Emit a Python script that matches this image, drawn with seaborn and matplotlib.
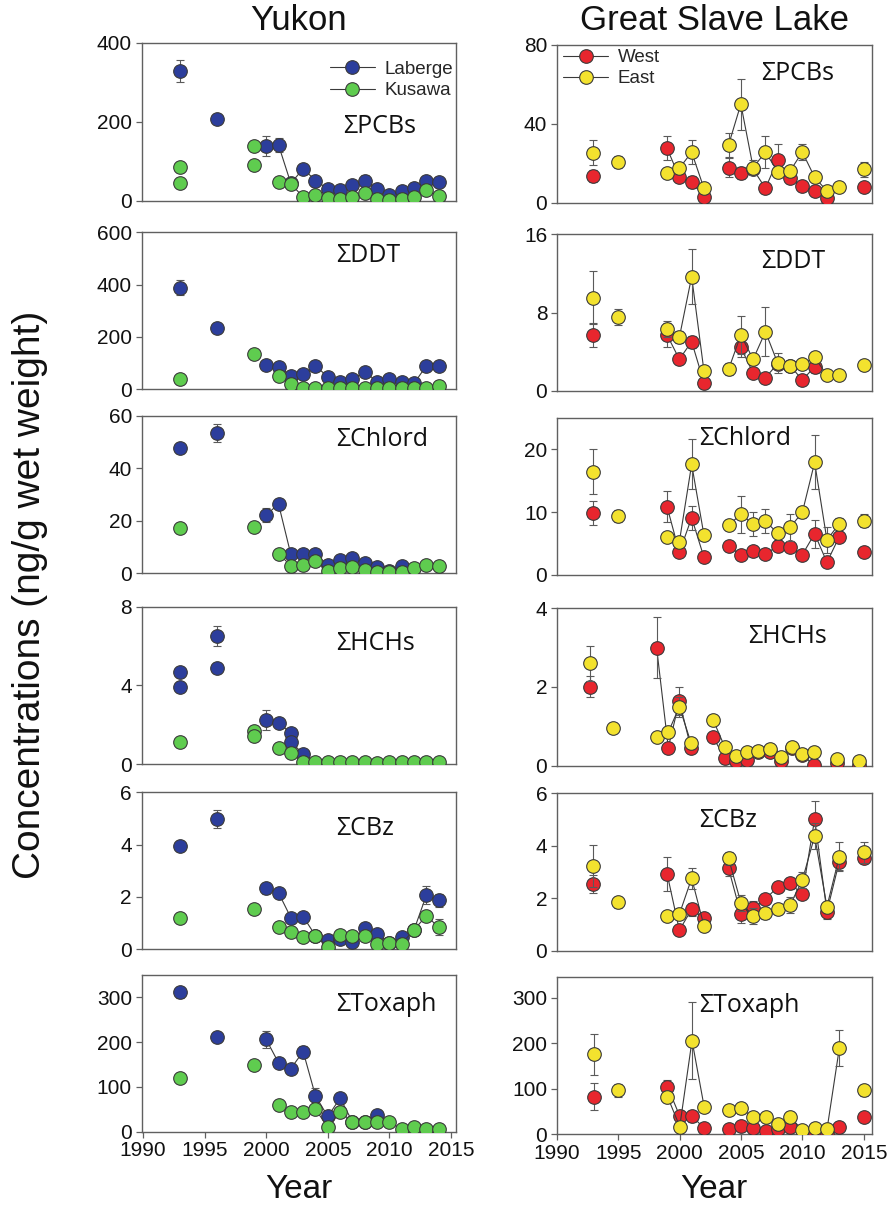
import numpy as np
import pandas as pd
import matplotlib
matplotlib.use("Agg")
import matplotlib.pyplot as plt
import seaborn as sns
from matplotlib.lines import Line2D

sns.set_theme(style="white")
plt.rcParams["font.family"] = ["Liberation Sans", "DejaVu Sans"]

N = None
X_TICKS = [1990, 1995, 2000, 2005, 2010, 2015]
X_TICK_LABELS = ["1990", "1995", "2000", "2005", "2010", "2015"]

# ---------------- Yukon (Laberge = blue, Kusawa = green) ----------------
# None entries split the series into separately connected segments
YK_PCB_LAB_X = [1993, N, 1996, N, 2000, 2001, 2002, 2003, 2004, 2005, 2006, 2007, 2008, 2009, 2010, 2011, 2012, 2013, 2014]
YK_PCB_LAB_V = [328, N, 208, N, 139, 141, 44, 81, 51, 30, 27, 40, 51, 30, 14, 24, 32, 49, 47]
YK_PCB_LAB_E = [27, N, 6, N, 25, 17, 0, 6, 10, 0, 0, 5, 14, 5, 0, 0, 0, 6, 6]
YK_PCB_KUS_X = [1993, N, 1993, N, 1999, N, 1999, N, 2001, 2002, 2003, 2004, 2005, 2006, 2007, 2008, 2009, 2010, 2011, 2012, 2013, 2014]
YK_PCB_KUS_V = [86, N, 46, N, 138, N, 90, N, 47, 42, 10, 14, 6, 4, 10, 19, 4, 2, 5, 10, 26, 13]
YK_PCB_KUS_E = [0, N, 0, N, 0, N, 0, N, 0, 0, 0, 0, 0, 0, 0, 0, 0, 0, 0, 0, 0, 0]

YK_DDT_LAB_X = [1993, N, 1996, N, 2000, 2001, 2002, 2003, 2004, 2005, 2006, 2007, 2008, 2009, 2010, 2011, 2012, 2013, 2014]
YK_DDT_LAB_V = [388, N, 234, N, 93, 87, 52, 58, 89, 48, 27, 39, 67, 29, 38, 29, 23, 90, 90]
YK_DDT_LAB_E = [28, N, 0, N, 0, 0, 0, 0, 20, 0, 0, 0, 0, 0, 0, 0, 0, 15, 0]
YK_DDT_KUS_X = [1993, N, 1999, N, 2001, 2002, 2003, 2004, 2005, 2006, 2007, 2008, 2009, 2010, 2011, 2012, 2013, 2014]
YK_DDT_KUS_V = [39, N, 135, N, 52, 19, 4, 4, 4, 4, 4, 4, 4, 4, 4, 4, 4, 13]
YK_DDT_KUS_E = [0, N, 0, N, 0, 0, 0, 0, 0, 0, 0, 0, 0, 0, 0, 0, 0, 0]

YK_CHL_LAB_X = [1993, N, 1996, N, 2000, 2001, 2002, 2003, 2004, 2005, 2006, 2007, 2008, 2009, 2010, 2011]
YK_CHL_LAB_V = [47.6, N, 53.3, N, 22.2, 26.4, 7.2, 7.2, 7.5, 3.1, 5.1, 5.7, 4.0, 2.3, 1.0, 2.9]
YK_CHL_LAB_E = [1.8, N, 3.5, N, 2.5, 0, 0, 0, 1.5, 0, 0, 0, 0, 0, 0, 0]
YK_CHL_KUS_X = [1993, N, 1999, N, 2001, 2002, 2003, 2004, 2005, 2006, 2007, 2008, 2009, 2010, 2011, 2012, 2013, 2014]
YK_CHL_KUS_V = [17.4, N, 17.7, N, 7.5, 2.9, 3.1, 4.7, 1.0, 2.1, 2.5, 1.1, 0.6, 0.6, 0.6, 2.1, 3.0, 2.8]
YK_CHL_KUS_E = [0, N, 0, N, 0, 0, 0, 0, 0, 0, 0, 0, 0, 0, 0, 0, 0, 0]

YK_HCH_LAB_X = [1993, N, 1993, N, 1996, N, 1996, N, 2000, 2001, 2002, N, 2002, 2003]
YK_HCH_LAB_V = [4.69, N, 3.90, N, 6.51, N, 4.87, N, 2.24, 2.07, 1.59, N, 1.13, 0.51]
YK_HCH_LAB_E = [0, N, 0, N, 0.5, N, 0.25, N, 0.5, 0, 0, N, 0, 0]
YK_HCH_KUS_X = [1993, N, 1999, N, 1999, N, 2001, 2002, 2003, 2004, 2005, 2006, 2007, 2008, 2009, 2010, 2011, 2012, 2013, 2014]
YK_HCH_KUS_V = [1.10, N, 1.69, N, 1.42, N, 0.80, 0.58, 0.08, 0.08, 0.08, 0.08, 0.08, 0.09, 0.05, 0.08, 0.08, 0.10, 0.12, 0.09]
YK_HCH_KUS_E = [0, N, 0, N, 0, N, 0, 0, 0, 0, 0, 0, 0, 0, 0, 0, 0, 0, 0, 0]

YK_CBZ_LAB_X = [1993, N, 1996, N, 2000, 2001, 2002, 2003, 2004, 2005, 2006, 2007, 2008, 2009, 2010, 2011, 2012, 2013, 2014]
YK_CBZ_LAB_V = [3.96, N, 4.97, N, 2.33, 2.16, 1.21, 1.25, 0.52, 0.36, 0.39, 0.29, 0.80, 0.60, 0.25, 0.46, 0.75, 2.07, 1.88]
YK_CBZ_LAB_E = [0, N, 0.35, N, 0.2, 0, 0, 0, 0, 0, 0, 0, 0, 0, 0, 0, 0, 0.35, 0.25]
YK_CBZ_KUS_X = [1993, N, 1999, N, 2001, 2002, 2003, 2004, 2005, 2006, 2007, 2008, 2009, 2010, 2011, 2012, 2013, 2014]
YK_CBZ_KUS_V = [1.18, N, 1.54, N, 0.85, 0.65, 0.47, 0.52, 0.10, 0.55, 0.50, 0.50, 0.20, 0.25, 0.22, 0.75, 1.28, 0.84]
YK_CBZ_KUS_E = [0, N, 0, N, 0, 0, 0, 0, 0, 0, 0, 0, 0, 0, 0, 0, 0.2, 0.3]

YK_TOX_LAB_X = [1993, N, 1996, N, 2000, 2001, 2002, 2003, 2004, 2005, 2006, 2007, 2008, 2009]
YK_TOX_LAB_V = [311, N, 212, N, 206, 154, 141, 179, 80, 34, 75, 22, 22, 37]
YK_TOX_LAB_E = [12, N, 0, N, 18, 10, 0, 12, 18, 0, 0, 0, 0, 0]
YK_TOX_KUS_X = [1993, N, 1999, N, 2001, 2002, 2003, 2004, 2005, 2006, 2007, 2008, 2009, 2010, 2011, 2012, 2013, 2014]
YK_TOX_KUS_V = [121, N, 149, N, 60, 43, 43, 50, 10, 44, 22, 22, 21, 22, 5, 11, 5, 5]
YK_TOX_KUS_E = [0, N, 0, N, 0, 0, 8, 0, 0, 12, 0, 0, 0, 0, 0, 0, 0, 0]

# ---------------- Great Slave Lake (West = red, East = yellow) ----------------
GS_PCB_W_X = [1993, N, 1999, 2000, 2001, 2002, N, 2004, 2005, 2006, 2007, 2008, 2009, 2010, 2011, 2012, N, 2015]
GS_PCB_W_V = [13.7, N, 27.6, 12.9, 10.7, 3.0, N, 17.8, 15.2, 17.0, 7.3, 21.7, 12.4, 8.6, 5.9, 2.4, N, 8.1]
GS_PCB_W_E = [3, N, 6, 0, 3, 0, N, 5, 3, 0, 0, 8, 0, 0, 0, 0, N, 0]
GS_PCB_E_X = [1993, N, 1995, N, 1999, 2000, 2001, 2002, N, 2004, 2005, 2006, 2007, 2008, 2009, 2010, 2011, 2012, 2013, N, 2015]
GS_PCB_E_V = [25.4, N, 20.8, N, 14.9, 17.5, 25.6, 7.3, N, 29.3, 50.0, 17.8, 25.7, 15.7, 16.1, 25.7, 12.9, 5.9, 8.1, N, 16.9]
GS_PCB_E_E = [6.5, N, 3, N, 0, 0, 6, 0, N, 6, 13, 4, 8, 0, 0, 4, 0, 0, 0, N, 4]

GS_DDT_W_X = [1993, N, 1999, 2000, 2001, 2002, N, 2005, 2006, 2007, 2008, 2009, 2010, 2011]
GS_DDT_W_V = [5.72, N, 5.72, 3.24, 5.04, 0.85, N, 4.46, 1.81, 1.36, 2.8, 2.6, 1.12, 2.48]
GS_DDT_W_E = [1.2, N, 1.2, 0.3, 0.6, 0, N, 1.0, 0.3, 0, 0, 0, 0, 0.6]
GS_DDT_E_X = [1993, N, 1995, N, 1999, 2000, 2001, 2002, N, 2004, 2005, 2006, 2007, 2008, 2009, 2010, 2011, 2012, 2013, N, 2015]
GS_DDT_E_V = [9.53, N, 7.59, N, 6.33, 5.48, 11.68, 2.04, N, 2.21, 5.72, 3.24, 6.06, 2.83, 2.59, 2.72, 3.44, 1.60, 1.60, N, 2.66]
GS_DDT_E_E = [2.7, N, 0.8, N, 0.8, 0.6, 2.8, 0, N, 0.6, 1.9, 0, 2.5, 1.0, 0, 0, 0.5, 0, 0, N, 0.4]

GS_CHL_W_X = [1993, N, 1999, 2000, 2001, 2002, N, 2004, 2005, 2006, 2007, 2008, 2009, 2010, 2011, 2012, 2013, N, 2015]
GS_CHL_W_V = [9.79, N, 10.85, 3.60, 9.1, 2.80, N, 4.66, 3.12, 3.81, 3.28, 4.66, 4.39, 3.23, 6.56, 2.01, 6.08, N, 3.70]
GS_CHL_W_E = [1.9, N, 2.5, 0.5, 1.9, 0, N, 0.8, 0.6, 0.6, 0, 0.9, 0, 0, 2.2, 0, 0.8, N, 0]
GS_CHL_E_X = [1993, N, 1995, N, 1999, 2000, 2001, 2002, N, 2004, 2005, 2006, 2007, 2008, 2009, 2010, 2011, 2012, 2013, N, 2015]
GS_CHL_E_V = [16.4, N, 9.37, N, 5.98, 5.29, 17.6, 6.35, N, 7.94, 9.63, 8.10, 8.57, 6.61, 7.57, 9.95, 17.9, 5.56, 8.15, N, 8.62]
GS_CHL_E_E = [3.6, N, 1.0, N, 0.6, 0.6, 4.0, 0, N, 0.8, 3.0, 1.9, 1.9, 0, 2.1, 0.9, 4.3, 2.0, 0.9, N, 1.0]

GS_HCH_W_X = [1992.7, N, 1998.15, 1999.1, 2000.0, 2000.95, N, 2002.75, 2003.7, 2004.6, 2005.5, 2006.4, 2007.35, 2008.25, 2009.15, 2010.0, 2010.95, N, 2012.85, N, 2014.6]
GS_HCH_W_V = [2.01, N, 3.0, 0.46, 1.64, 0.44, N, 0.72, 0.19, 0.12, 0.14, 0.35, 0.34, 0.12, 0.45, 0.27, 0.02, N, 0.08, N, 0.02]
GS_HCH_W_E = [0.27, N, 0.78, 0, 0.35, 0, N, 0, 0, 0, 0, 0, 0, 0, 0, 0, 0, N, 0, N, 0]
GS_HCH_E_X = [1992.7, N, 1994.6, N, 1998.15, 1999.1, 2000.0, 2000.95, N, 2002.75, 2003.7, 2004.6, 2005.5, 2006.4, 2007.35, 2008.25, 2009.15, 2010.0, 2010.95, N, 2012.85, N, 2014.6]
GS_HCH_E_V = [2.60, N, 0.95, N, 0.74, 0.85, 1.50, 0.58, N, 1.16, 0.47, 0.25, 0.34, 0.38, 0.42, 0.21, 0.48, 0.29, 0.34, N, 0.16, N, 0.13]
GS_HCH_E_E = [0.45, N, 0.13, N, 0, 0, 0.25, 0, N, 0, 0, 0, 0, 0, 0, 0, 0, 0, 0, N, 0, N, 0]

GS_CBZ_W_X = [1993, N, 1999, 2000, 2001, 2002, N, 2004, 2005, 2006, 2007, 2008, 2009, 2010, 2011, 2012, 2013, N, 2015]
GS_CBZ_W_V = [2.55, N, 2.94, 0.78, 1.58, 1.23, N, 3.14, 1.39, 1.61, 1.97, 2.43, 2.57, 2.15, 5.02, 1.49, 3.39, N, 3.55]
GS_CBZ_W_E = [0.35, N, 0.65, 0, 0.25, 0, N, 0.3, 0.35, 0.3, 0.2, 0.2, 0.2, 0, 0.7, 0.3, 0.3, N, 0.2]
GS_CBZ_E_X = [1993, N, 1995, N, 1999, 2000, 2001, 2002, N, 2004, 2005, 2006, 2007, 2008, 2009, 2010, 2011, 2012, 2013, N, 2015]
GS_CBZ_E_V = [3.24, N, 1.84, N, 1.33, 1.39, 2.76, 0.95, N, 3.52, 1.83, 1.33, 1.42, 1.59, 1.74, 2.69, 4.37, 1.68, 3.58, N, 3.75]
GS_CBZ_E_E = [0.8, N, 0.22, N, 0, 0, 0.4, 0, N, 0.25, 0.3, 0.3, 0.2, 0.2, 0.3, 0.3, 0.5, 0, 0.55, N, 0.4]

GS_TOX_W_X = [1993, N, 1999, 2000, 2001, 2002, N, 2004, 2005, 2006, 2007, 2008, 2009, N, 2011, 2012, 2013, N, 2015]
GS_TOX_W_V = [83, N, 105, 40, 40, 13, N, 11, 19, 13, 8, 11, 15, N, 2, 2, 17, N, 39]
GS_TOX_W_E = [30, N, 15, 0, 12, 0, N, 0, 0, 0, 0, 0, 0, N, 0, 0, 0, N, 0]
GS_TOX_E_X = [1993, N, 1995, N, 1999, 2000, 2001, 2002, N, 2004, 2005, 2006, 2007, 2008, 2009, 2010, 2011, 2012, 2013, N, 2015]
GS_TOX_E_V = [176, N, 97, N, 83, 17, 206, 59, N, 53, 57, 37, 37, 23, 37, 10, 13, 11, 189, N, 97]
GS_TOX_E_E = [45, N, 14, N, 12, 0, 84, 0, N, 0, 12, 0, 0, 0, 12, 0, 0, 0, 40, N, 12]

PANEL_NAMES = ["\u03a3PCBs", "\u03a3DDT", "\u03a3Chlord", "\u03a3HCHs", "\u03a3CBz", "\u03a3Toxaph"]
YK_YLIM = [400, 600, 60, 8, 6, 350]
YK_YTICKS = [[0, 200, 400], [0, 200, 400, 600], [0, 20, 40, 60], [0, 4, 8], [0, 2, 4, 6], [0, 100, 200, 300]]
GS_YLIM = [80, 16, 25, 4, 6, 345]
GS_YTICKS = [[0, 40, 80], [0, 8, 16], [0, 10, 20], [0, 2, 4], [0, 2, 4, 6], [0, 100, 200, 300]]

YK_SERIES = [
    ((YK_PCB_LAB_X, YK_PCB_LAB_V, YK_PCB_LAB_E), (YK_PCB_KUS_X, YK_PCB_KUS_V, YK_PCB_KUS_E)),
    ((YK_DDT_LAB_X, YK_DDT_LAB_V, YK_DDT_LAB_E), (YK_DDT_KUS_X, YK_DDT_KUS_V, YK_DDT_KUS_E)),
    ((YK_CHL_LAB_X, YK_CHL_LAB_V, YK_CHL_LAB_E), (YK_CHL_KUS_X, YK_CHL_KUS_V, YK_CHL_KUS_E)),
    ((YK_HCH_LAB_X, YK_HCH_LAB_V, YK_HCH_LAB_E), (YK_HCH_KUS_X, YK_HCH_KUS_V, YK_HCH_KUS_E)),
    ((YK_CBZ_LAB_X, YK_CBZ_LAB_V, YK_CBZ_LAB_E), (YK_CBZ_KUS_X, YK_CBZ_KUS_V, YK_CBZ_KUS_E)),
    ((YK_TOX_LAB_X, YK_TOX_LAB_V, YK_TOX_LAB_E), (YK_TOX_KUS_X, YK_TOX_KUS_V, YK_TOX_KUS_E)),
]
GS_SERIES = [
    ((GS_PCB_W_X, GS_PCB_W_V, GS_PCB_W_E), (GS_PCB_E_X, GS_PCB_E_V, GS_PCB_E_E)),
    ((GS_DDT_W_X, GS_DDT_W_V, GS_DDT_W_E), (GS_DDT_E_X, GS_DDT_E_V, GS_DDT_E_E)),
    ((GS_CHL_W_X, GS_CHL_W_V, GS_CHL_W_E), (GS_CHL_E_X, GS_CHL_E_V, GS_CHL_E_E)),
    ((GS_HCH_W_X, GS_HCH_W_V, GS_HCH_W_E), (GS_HCH_E_X, GS_HCH_E_V, GS_HCH_E_E)),
    ((GS_CBZ_W_X, GS_CBZ_W_V, GS_CBZ_W_E), (GS_CBZ_E_X, GS_CBZ_E_V, GS_CBZ_E_E)),
    ((GS_TOX_W_X, GS_TOX_W_V, GS_TOX_W_E), (GS_TOX_E_X, GS_TOX_E_V, GS_TOX_E_E)),
]

BLUE, GREEN, RED, YELLOW = "#2c3e9c", "#5fcc4f", "#e8262e", "#f3e22e"
EDGE, LINE, ERR, SPINE = "#3a3a3a", "#3a3a3a", "#5a5a5a", "#606060"
MS = 9.8

W_PX, H_PX = 896, 1213
fig = plt.figure(figsize=(W_PX / 100, H_PX / 100), dpi=100)


def add_ax(l, t, r, b):
    return fig.add_axes([l / W_PX, 1 - b / H_PX, (r - l) / W_PX, (b - t) / H_PX])


def frame(xs, vs, es):
    rows, seg = [], 0
    for x, v, e in zip(xs, vs, es):
        if x is None:
            seg += 1
            continue
        rows.append((x, v, e, seg))
    return pd.DataFrame(rows, columns=["year", "val", "err", "seg"])


def draw(ax, series, color, z):
    df = frame(*series)
    sns.lineplot(data=df, x="year", y="val", units="seg", estimator=None, sort=False,
                 color=LINE, lw=0.8, ax=ax, legend=False, zorder=z)
    e = df[df.err > 0]
    if len(e):
        ax.errorbar(e.year, e.val, yerr=e.err, fmt="none", ecolor=ERR, elinewidth=0.8,
                    capsize=3, capthick=0.8, zorder=z + 0.1)
    sns.scatterplot(data=df, x="year", y="val", color=color, s=MS ** 2, edgecolor=EDGE,
                    linewidth=0.8, ax=ax, legend=False, zorder=z + 0.2)


YK_TOP = [42.7, 232.3, 415.7, 606.7, 792.3, 975]
YK_BOT = [200.7, 389.3, 573.3, 764, 949.3, 1131.7]
GS_TOP = [45, 234.3, 417.7, 608.3, 793.3, 977.3]
GS_BOT = [202.7, 391, 575, 765.7, 950.7, 1134.3]
YK_LBL = [(0.64, 0.47), (0.62, 0.855), (0.62, 0.846), (0.62, 0.763), (0.62, 0.77), (0.62, 0.81)]
GS_LBL = [(0.65, 0.82), (0.65, 0.825), (0.451, 0.869), (0.608, 0.82), (0.451, 0.83), (0.451, 0.82)]

for col in range(2):
    for r in range(6):
        if col == 0:
            ax = add_ax(141.7, YK_TOP[r], 456, YK_BOT[r])
            s1, s2 = YK_SERIES[r]
            c1, c2 = BLUE, GREEN
            ax.set_xlim(1989.9, 2015.4)
            ax.set_ylim(0, YK_YLIM[r])
            ax.set_yticks(YK_YTICKS[r])
            lx, ly = YK_LBL[r]
        else:
            ax = add_ax(557, GS_TOP[r], 871.7, GS_BOT[r])
            s1, s2 = GS_SERIES[r]
            c1, c2 = RED, YELLOW
            ax.set_xlim(1990.05, 2015.64)
            ax.set_ylim(0, GS_YLIM[r])
            ax.set_yticks(GS_YTICKS[r])
            lx, ly = GS_LBL[r]
        draw(ax, s1, c1, 3)
        draw(ax, s2, c2, 4)
        ax.set_xlabel("")
        ax.set_ylabel("")
        for sp in ax.spines.values():
            sp.set_color(SPINE)
            sp.set_linewidth(1.0)
        ax.tick_params(axis="y", which="both", left=True, direction="out", length=4,
                       width=0.9, color=SPINE, labelsize=15, pad=3, labelcolor="#111111")
        if r == 5:
            ax.set_xticks(X_TICKS)
            ax.set_xticklabels(X_TICK_LABELS)
            ax.tick_params(axis="x", bottom=True, direction="out", length=4, width=0.9,
                           color=SPINE, labelsize=15, pad=3, labelcolor="#111111")
        else:
            ax.set_xticks([])
        ax.text(lx, ly, PANEL_NAMES[r], transform=ax.transAxes, ha="left", va="center",
                fontsize=18, family=["Open Sans", "DejaVu Sans"], color="#111111", zorder=10)
        ax.set_facecolor("white")
        if r == 0:
            if col == 0:
                labels = ["Laberge", "Kusawa"]
                loc, anchor = "upper right", (0.99, 0.885)
            else:
                labels = ["West", "East"]
                loc, anchor = "upper left", (0.02, 0.975)
            handles = [Line2D([0], [0], color=LINE, lw=0.8, marker="o", markersize=MS,
                              markerfacecolor=c, markeredgecolor=EDGE, markeredgewidth=0.8)
                       for c in (c1, c2)]
            ax.legend(handles, labels, loc=loc, bbox_to_anchor=anchor, frameon=False,
                      fontsize=13.5, handlelength=2.4, handletextpad=0.5, labelspacing=0.22,
                      borderaxespad=0, borderpad=0)

fig.text(298.9 / W_PX, 1 - 20 / H_PX, "Yukon", ha="center", va="center", fontsize=25, color="#111111")
fig.text(714 / W_PX, 1 - 20 / H_PX, "Great Slave Lake", ha="center", va="center", fontsize=25, color="#111111")
fig.text(298.9 / W_PX, 1 - 1190 / H_PX, "Year", ha="center", va="center", fontsize=24, color="#111111")
fig.text(714 / W_PX, 1 - 1190 / H_PX, "Year", ha="center", va="center", fontsize=24, color="#111111")
fig.text(30 / W_PX, 1 - 595 / H_PX, "Concentrations (ng/g wet weight)", rotation=90,
         ha="center", va="center", fontsize=28, color="#111111")

fig.savefig("out.png", dpi=100, facecolor="white")
